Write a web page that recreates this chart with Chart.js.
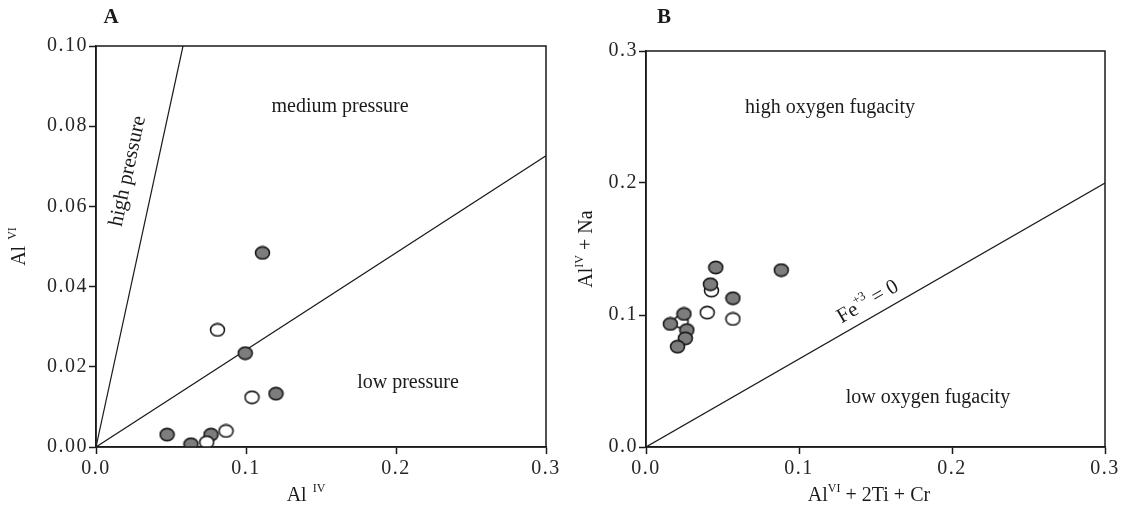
<!DOCTYPE html>
<html>
<head>
<meta charset="utf-8">
<script src="https://cdn.jsdelivr.net/npm/chart.js@4.4.1/dist/chart.umd.min.js"></script>
<style>
  html, body { margin:0; padding:0; background:#fff; }
  #wrap { position:relative; width:1131px; height:514px; }
  .box { position:absolute; top:0; height:514px; }
  #boxA { left:0; width:565px; }
  #boxB { left:565px; width:566px; }
</style>
</head>
<body>
<div id="wrap">
  <div class="box" id="boxA"><canvas id="chartA"></canvas></div>
  <div class="box" id="boxB"><canvas id="chartB"></canvas></div>
</div>
<script>
// Panel A: Al IV vs Al VI
const aFilledX = [0.111, 0.0995, 0.120, 0.0474, 0.0633, 0.0767];
const aFilledY = [0.0484, 0.0234, 0.0133, 0.0031, 0.0007, 0.0031];
const aOpenX = [0.081, 0.104, 0.0867, 0.0738];
const aOpenY = [0.0292, 0.0124, 0.0040, 0.0012];
const aHighLineX = [0, 0.058];
const aHighLineY = [0, 0.1];
const aLowLineX = [0, 0.3];
const aLowLineY = [0, 0.0726];
const aXTicks = [0, 0.1, 0.2, 0.3];
const aYTicks = [0, 0.02, 0.04, 0.06, 0.08, 0.10];

// Panel B: AlVI + 2Ti + Cr vs AlIV + Na
const bFilledX = [0.0456, 0.0884, 0.0421, 0.0568, 0.0248, 0.0159, 0.0267, 0.0257, 0.0206];
const bFilledY = [0.136, 0.134, 0.1233, 0.1127, 0.1008, 0.0932, 0.0886, 0.0823, 0.076];
const bOpenX = [0.0428, 0.040, 0.0568, 0.0229];
const bOpenY = [0.1185, 0.1018, 0.097, 0.0949];
const bLineX = [0, 0.3];
const bLineY = [0, 0.2];
const bXTicks = [0, 0.1, 0.2, 0.3];
const bYTicks = [0, 0.1, 0.2, 0.3];

const FONT = "'Liberation Serif', 'DejaVu Serif', serif";
const INK = "#1a1a1a";
const GREY = "#7d7d7d";
const TXT = 20;

function pts(xs, ys){
    return xs.map((x,i) => ({x:x, y:ys[i]}));
}

// slightly flattened round marker, like the printed figure
function ellipseMark(fill){
    const c = document.createElement("canvas");
    c.width = 17; c.height = 15;
    const g = c.getContext("2d");
    g.beginPath();
    g.ellipse(8.5, 7.5, 7, 6.1, 0, 0, Math.PI*2);
    g.fillStyle = fill;
    g.fill();
    g.lineWidth = 1.6;
    g.strokeStyle = INK;
    g.stroke();
    return c;
}

function markerSet(xs, ys, fill, order){
    return {
        data: pts(xs, ys),
        pointStyle: ellipseMark(fill),
        pointRadius: 8,
        pointHoverRadius: 8,
        showLine: false,
        order: order
    };
}

function lineSet(xs, ys){
    return {
        data: pts(xs, ys),
        showLine: true,
        borderColor: INK,
        borderWidth: 1.2,
        pointRadius: 0,
        order: 10
    };
}

// text with optional superscript parts
function drawParts(ctx, parts, x, y, size){
    let total = 0;
    parts.forEach(p => {
        ctx.font = (p.sup ? size*0.6 : size) + "px " + FONT;
        p.w = ctx.measureText(p.t).width;
        total += p.w;
    });
    let cx = x - total/2;
    parts.forEach(p => {
        ctx.font = (p.sup ? size*0.6 : size) + "px " + FONT;
        ctx.fillText(p.t, cx, p.sup ? y - size*0.36 : y);
        cx += p.w;
    });
}

const decor = {
    id: "decor",
    beforeDraw(chart){
        // printed tick numbers are loosely spaced
        chart.ctx.letterSpacing = "1.5px";
    },
    afterDraw(chart){
        const o = chart.options.plugins.decor;
        const ctx = chart.ctx;
        const a = chart.chartArea;
        const xs = chart.scales.x, ys = chart.scales.y;
        ctx.save();
        ctx.letterSpacing = "0px";
        ctx.strokeStyle = INK;
        ctx.lineWidth = 1.5;
        ctx.strokeRect(a.left, a.top, a.right - a.left, a.bottom - a.top);
        ctx.fillStyle = INK;
        ctx.textBaseline = "middle";
        ctx.textAlign = "left";

        // panel letter
        ctx.font = "bold 21px " + FONT;
        ctx.textAlign = "center";
        ctx.fillText(o.letter, o.letterPos[0], o.letterPos[1]);
        ctx.textAlign = "left";

        // region labels
        o.labels.forEach(l => {
            ctx.save();
            ctx.translate(xs.getPixelForValue(l.x), ys.getPixelForValue(l.y));
            if(l.along){
                const p0x = xs.getPixelForValue(l.along[0]), p0y = ys.getPixelForValue(l.along[1]);
                const p1x = xs.getPixelForValue(l.along[2]), p1y = ys.getPixelForValue(l.along[3]);
                ctx.rotate(Math.atan2(p1y - p0y, p1x - p0x));
            }
            drawParts(ctx, l.parts, 0, 0, l.size || TXT);
            ctx.restore();
        });

        // axis titles
        drawParts(ctx, o.xTitle, o.xTitleX, o.xTitleY, TXT);
        ctx.save();
        ctx.translate(o.yTitleX, (a.top + a.bottom)/2);
        ctx.rotate(-Math.PI/2);
        drawParts(ctx, o.yTitle, 0, 0, TXT);
        ctx.restore();
        ctx.restore();
    }
};

function axis(min, max, ticks, digits, fitSize, isY){
    return {
        type: "linear",
        min: min,
        max: max,
        afterBuildTicks: s => { s.ticks = ticks.map(v => ({value:v})); },
        afterFit: s => { if(isY) s.width = fitSize; else s.height = fitSize; },
        grid: { drawOnChartArea:false, drawTicks:true, tickLength:7, tickWidth:1.5, tickColor:INK },
        border: { display:true, color:INK, width:1.5 },
        ticks: {
            color: "#262626",
            padding: isY ? 1 : 3,
            maxRotation: 0,
            font: { family: FONT, size: 20 },
            callback: v => Number(v).toFixed(digits)
        }
    };
}

function makeChart(id, datasets, xAx, yAx, padding, decorOpts){
    new Chart(document.getElementById(id), {
        type: "scatter",
        data: { datasets: datasets },
        options: {
            responsive: true,
            maintainAspectRatio: false,
            animation: false,
            layout: { padding: padding },
            plugins: {
                legend: { display:false },
                tooltip: { enabled:false },
                decor: decorOpts
            },
            scales: { x: xAx, y: yAx }
        },
        plugins: [decor]
    });
}

makeChart("chartA",
    [
        markerSet(aOpenX, aOpenY, "#ffffff", 1),
        markerSet(aFilledX, aFilledY, GREY, 2),
        lineSet(aHighLineX, aHighLineY),
        lineSet(aLowLineX, aLowLineY)
    ],
    axis(0, 0.3, aXTicks, 1, 67, false),
    axis(0, 0.1, aYTicks, 2, 96, true),
    { left:0, top:46, right:19, bottom:0 },
    {
        letter: "A", letterPos: [111, 18],
        xTitle: [{t:"Al"}, {t:"  IV", sup:true}], xTitleX: 306, xTitleY: 496,
        yTitle: [{t:"Al"}, {t:"  VI", sup:true}], yTitleX: 20,
        labels: [
            { x:0.1627, y:0.0848, parts:[{t:"medium pressure"}] },
            { x:0.208, y:0.016, parts:[{t:"low pressure"}] },
            { x:0.0213, y:0.0688, parts:[{t:"high pressure"}], along:[0, 0, 0.058, 0.1], size:21 }
        ]
    }
);

makeChart("chartB",
    [
        markerSet(bFilledX, bFilledY, GREY, 1),
        markerSet(bOpenX, bOpenY, "#ffffff", 2),
        lineSet(bLineX, bLineY)
    ],
    axis(0, 0.3, bXTicks, 1, 67, false),
    axis(0, 0.3, bYTicks, 1, 81, true),
    { left:0, top:51, right:26, bottom:0 },
    {
        letter: "B", letterPos: [99, 18],
        xTitle: [{t:"Al"}, {t:"VI", sup:true}, {t:" + 2Ti + Cr"}], xTitleX: 304, xTitleY: 496,
        yTitle: [{t:"Al"}, {t:"IV", sup:true}, {t:" + Na"}], yTitleX: 22,
        labels: [
            { x:0.1203, y:0.2568, parts:[{t:"high oxygen fugacity"}] },
            { x:0.1843, y:0.0371, parts:[{t:"low oxygen fugacity"}] },
            { x:0.1451, y:0.1098, parts:[{t:"Fe"}, {t:"+3", sup:true}, {t:" = 0"}], along:[0, 0, 0.3, 0.2], size:21 }
        ]
    }
);
</script>
</body>
</html>
